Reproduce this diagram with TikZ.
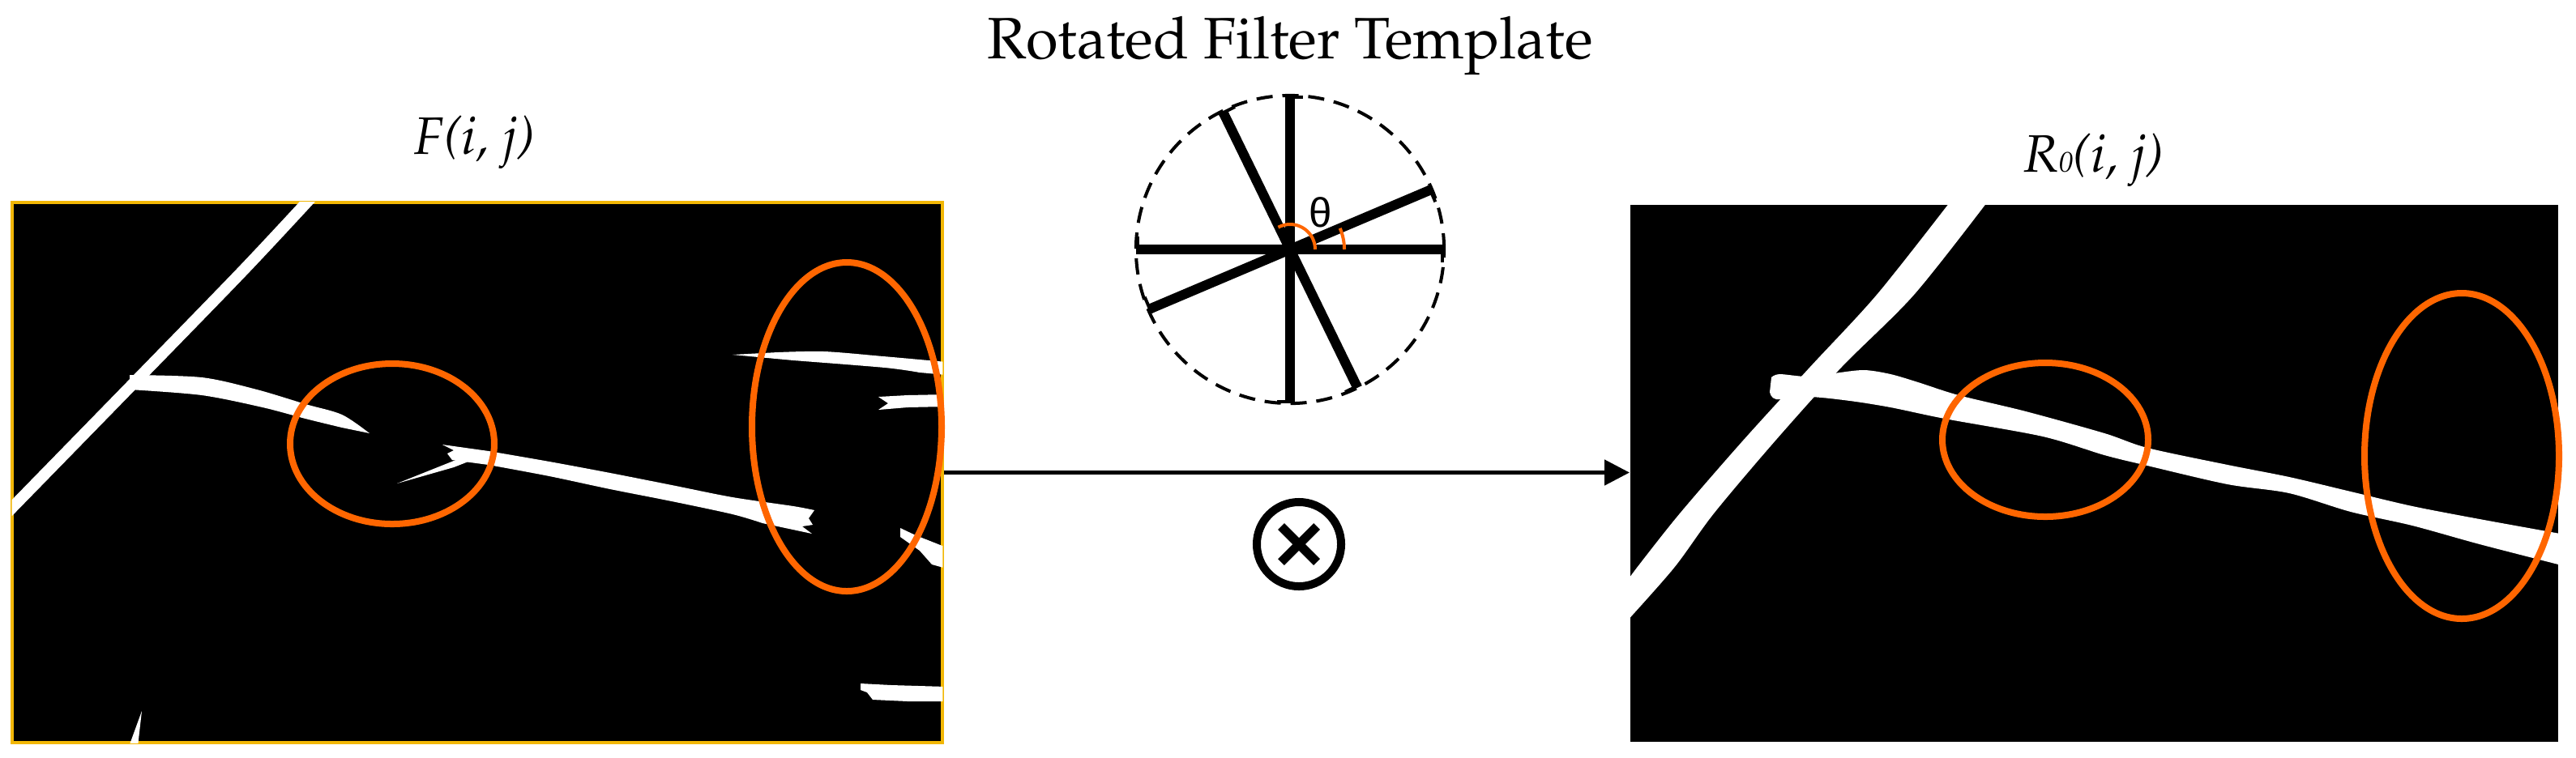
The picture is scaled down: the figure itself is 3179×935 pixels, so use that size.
\documentclass[tikz,border=0pt]{standalone}
\usepackage{fontspec}
\newfontfamily\thetafont{Liberation Sans}
\usepackage[T1]{fontenc}
\renewcommand{\rmdefault}{ppl}
\usetikzlibrary{arrows.meta}
\newlength{\pxw}\setlength{\pxw}{0.28453pt}
\definecolor{ringorange}{RGB}{255,102,0}
\definecolor{framegold}{RGB}{242,183,5}
\begin{document}
\begin{tikzpicture}[x=0.01cm, y=-0.01cm,
    imgbox/.style={fill=black, inner sep=0pt},
    crack/.style={fill=white},
    ring/.style={draw=ringorange, line width=8\pxw},
    dashring/.style={draw, circle, inner sep=0pt, minimum size=3.8cm, line width=4\pxw, dash pattern=on 20\pxw off 12\pxw},
    filterbar/.style={line width=12\pxw},
    endtick/.style={line width=4\pxw},
    anglearc/.style={draw=ringorange, line width=4\pxw},
    flow/.style={line width=5\pxw, -{Triangle[length=8.8pt, width=8.8pt]}},
    titletext/.style={font=\fontsize{20.5}{24}\selectfont},
    labeltext/.style={font=\fontsize{18.5}{22}\selectfont\itshape},
    convsym/.style={draw, circle, inner sep=0pt, minimum size=1.04cm, line width=10\pxw}]
\useasboundingbox (0,0) rectangle (3179,935);

\node[imgbox, draw=framegold, line width=4\pxw, minimum width=11.48cm, minimum height=6.67cm] (fij) at (589,583.5) {};
\node[imgbox, minimum width=11.45cm, minimum height=6.63cm] (rij) at (2584.5,584.5) {};

% broken cracks, input
\begin{scope}
  \clip ([shift={(2,2)}]fij.north west) rectangle ([shift={(-2,-2)}]fij.south east);
  \draw[white, line width=14\pxw] plot[smooth] coordinates {(384,244) (300,334) (166,472) (8,634)};
  \fill[crack] plot[smooth] coordinates {(160,463) (249,466) (317,481) (377,499) (422,512) (456,535)}
      -- plot[smooth] coordinates {(422,528) (377,517) (324,503) (249,488) (160,481)} -- cycle;
  \fill[crack] (490,597) -- (560,569) -- (586,559) -- (588,566) -- (560,577) -- cycle;
  \fill[crack] (546,549) -- plot[smooth] coordinates {(603,557) (678,570) (753,584) (829,599) (904,614) (979,625) (1005,630)}
      -- (998,640) -- (1003,648) -- (990,650) -- (1002,659)
      -- plot[smooth] coordinates {(941,646) (904,635) (829,619) (753,604) (678,588) (603,574)}
      -- (558,568) -- (552,560) -- (560,556) -- cycle;
  \fill[crack] (904,438) -- plot[smooth] coordinates {(960,435) (1017,434) (1090,440) (1168,447)}
      -- (1168,463) -- plot[smooth] coordinates {(1135,460) (1092,454) (979,445)} -- cycle;
  \fill[crack] (1084,490) -- (1120,488) -- (1168,487) -- (1168,502) -- (1120,503) -- (1084,506) -- (1096,498) -- cycle;
  \fill[crack] (1111,652) -- (1130,661) -- (1168,676) -- (1168,702) -- (1150,697) -- (1135,680) -- (1111,663) -- cycle;
  \fill[crack] (1062,844) -- (1100,846) -- (1168,848) -- (1168,866) -- (1120,866) -- (1077,864) -- (1070,855) -- (1062,852) -- cycle;
  \fill[crack] (175,878) -- (170,922) -- (159,922) -- cycle;
\end{scope}

% repaired cracks, output
\begin{scope}
  \clip (rij.north west) rectangle (rij.south east);
  \fill[crack] plot[smooth] coordinates {(2406,250) (2316,364) (2233,454) (2151,544) (2073,634) (2020,701) (2005,722)}
      -- plot[smooth] coordinates {(2005,770) (2066,701) (2115,634) (2191,544) (2272,454) (2362,364) (2452,250)} -- cycle;
  \fill[crack] plot[smooth] coordinates {(2186,466) (2196,462) (2230,465) (2263,461) (2300,457) (2333,462) (2367,472) (2417,488) (2500,508) (2597,535) (2650,553) (2749,574) (2825,589) (2901,607) (2977,625) (3060,641) (3165,660)}
      -- plot[smooth] coordinates {(3165,699) (3060,672) (2977,649) (2901,632) (2825,609) (2749,598) (2650,575) (2597,562) (2521,539) (2400,517) (2333,503) (2283,495) (2233,490) (2192,493) (2184,484)} -- cycle;
\end{scope}

\draw[ring] (484,548) ellipse[x radius=126, y radius=99];
\draw[ring] (1045,527) ellipse[x radius=117, y radius=203];
\draw[ring] (2524,543) ellipse[x radius=127, y radius=95];
\draw[ring] (3038,563) ellipse[x radius=120, y radius=201];

\node[titletext, anchor=base] (title) at (1592,72) {Rotated Filter Template};
\node[labeltext, anchor=base] (flabel) at (586,190) {F(i, j)};
\node[labeltext, anchor=base] (rlabel) at (2584,212) {R{\fontsize{10}{10}\selectfont 0}(i, j)};

\node[dashring] (tmpl) at (1592,308) {};
\begin{scope}[shift={(tmpl.center)}, y=0.01cm]
  \foreach \a in {0,23,90,116}{
    \draw[filterbar, rotate=\a] (-188,0) -- (188,0);
    \draw[endtick, rotate=\a] (188,6) -- (188,-16) (-188,-6) -- (-188,16);
  }
  \draw[anglearc] (31,0) arc[start angle=0, end angle=118, radius=31];
  \draw[anglearc] (67,0) arc[start angle=0, end angle=23, radius=67];
  \node[font=\thetafont\fontsize{14.5}{16}\selectfont] (theta) at (38,46) {θ};
\end{scope}

\draw[flow] (fij.east) -- (fij.east -| rij.west);

\node[convsym] (conv) at (1603,672) {};
\draw[line width=11\pxw] ([shift={(-22,-22)}]conv.center) -- ([shift={(22,22)}]conv.center)
                         ([shift={(-22,22)}]conv.center) -- ([shift={(22,-22)}]conv.center);
\end{tikzpicture}
\end{document}
